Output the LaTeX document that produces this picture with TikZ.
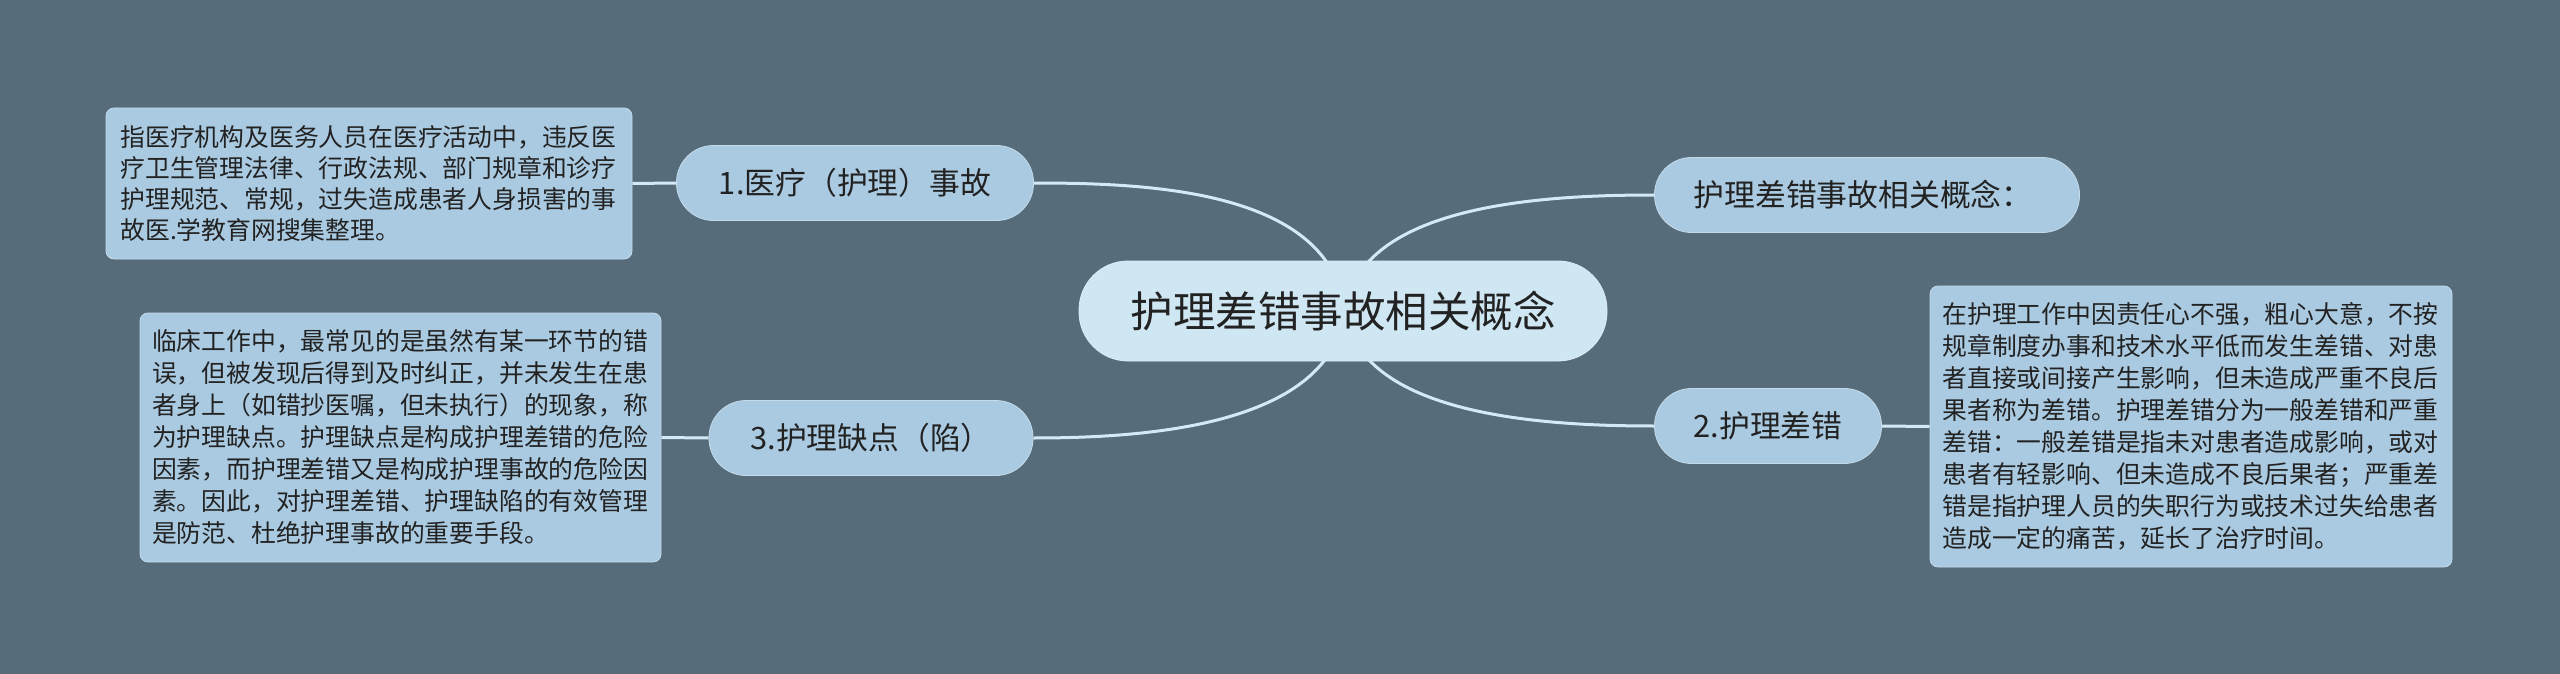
\documentclass[tikz,border=0pt]{standalone}
\usepackage{fontspec}
\setmainfont{Noto Sans CJK SC}
\definecolor{bgc}{HTML}{566C7B}
\definecolor{subc}{HTML}{AACAE1}
\definecolor{mainc}{HTML}{CFE6F3}
\definecolor{linec}{HTML}{D3EAF6}
\definecolor{txtc}{HTML}{222222}
\pgfdeclarelayer{bg}
\pgfsetlayers{bg,main}
\begin{document}
\begin{tikzpicture}[x=1pt,y=-1pt,
  subnode/.style={fill=subc, draw=subc!70!white, line width=0.8pt, rounded corners=37pt, minimum height=75pt, inner sep=0pt, text=txtc, font=\fontsize{30.8}{36}\selectfont},
  mainnode/.style={fill=mainc, draw=mainc!70!white, line width=0.8pt, rounded corners=49pt, minimum height=100pt, minimum width=528pt, inner sep=0pt, text=txtc, font=\fontsize{42.5}{50}\selectfont},
  textbox/.style={fill=subc, draw=subc!70!white, line width=0.8pt, rounded corners=8pt, inner ysep=0pt, text=txtc, align=left, text width=497pt},
  conn/.style={draw=linec, line width=3pt}
]
\begin{pgfonlayer}{bg}
\fill[bgc] (0,0) rectangle (2560,674);
\end{pgfonlayer}
\useasboundingbox (0,0) rectangle (2560,674);

\node[mainnode] (c) at (1343,311) {护理差错事故相关概念};

\node[subnode, minimum width=357pt] (n1) at (855,183) {1.医疗（护理）事故};
\node[subnode, minimum width=425pt] (n0) at (1867,195) {\hspace*{-8pt}护理差错事故相关概念：};
\node[subnode, minimum width=227pt] (n2) at (1768,426) {2.护理差错};
\node[subnode, minimum width=324pt] (n3) at (871,438) {3.护理缺点（陷）};

\node[textbox, inner xsep=14.5pt, minimum height=151pt, font=\fontsize{24.8}{31}\selectfont] (b1) at (369,183.5) {指医疗机构及医务人员在医疗活动中，违反医\\疗卫生管理法律、行政法规、部门规章和诊疗\\护理规范、常规，过失造成患者人身损害的事\\故医.学教育网搜集整理。};

\node[textbox, inner xsep=12pt, minimum height=249pt, font=\fontsize{24.8}{32}\selectfont] (b3) at (400.5,437.5) {临床工作中，最常见的是虽然有某一环节的错\\误，但被发现后得到及时纠正，并未发生在患\\者身上（如错抄医嘱，但未执行）的现象，称\\为护理缺点。护理缺点是构成护理差错的危险\\因素，而护理差错又是构成护理事故的危险因\\素。因此，对护理差错、护理缺陷的有效管理\\是防范、杜绝护理事故的重要手段。};

\node[textbox, inner xsep=12.5pt, minimum height=281pt, font=\fontsize{24.8}{32}\selectfont] (b2) at (2191,426.5) {在护理工作中因责任心不强，粗心大意，不按\\规章制度办事和技术水平低而发生差错、对患\\者直接或间接产生影响，但未造成严重不良后\\果者称为差错。护理差错分为一般差错和严重\\差错：一般差错是指未对患者造成影响，或对\\患者有轻影响、但未造成不良后果者；严重差\\错是指护理人员的失职行为或技术过失给患者\\造成一定的痛苦，延长了治疗时间。};

\begin{pgfonlayer}{bg}
\coordinate (cc) at (1345,311);
\draw[conn] (cc) .. controls (1330,190) and (1150,183) .. (n1.east);
\draw[conn] (cc) .. controls (1360,205) and (1540,195) .. (n0.west);
\draw[conn] (cc) .. controls (1360,415) and (1540,426) .. (n2.west);
\draw[conn] (cc) .. controls (1330,425) and (1150,438) .. (n3.east);
\draw[conn] (n1.west) -- (b1.east);
\draw[conn] (n3.west) -- (b3.east);
\draw[conn] (n2.east) -- (b2.west);
\end{pgfonlayer}
\end{tikzpicture}
\end{document}
